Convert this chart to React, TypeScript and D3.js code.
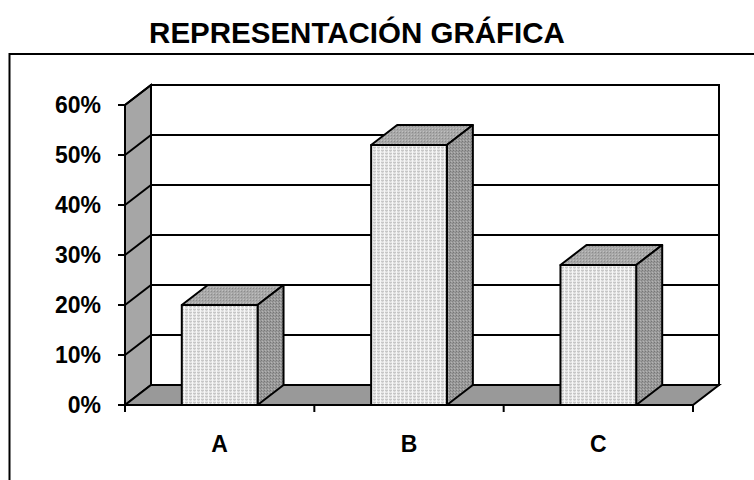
import React from "react";
import * as d3 from "d3";

const categories = ["A", "B", "C"];
const values = [0.2, 0.52, 0.28];
const yTicks = [0, 0.1, 0.2, 0.3, 0.4, 0.5, 0.6];
const title = "REPRESENTACIÓN GRÁFICA";

const WIDTH = 754;
const HEIGHT = 480;
const FONT = "'Liberation Sans', Arial, sans-serif";

const App = () => {
  // front plane of the 3d box
  const left = 125;
  const right = 693;
  const bottom = 405;
  const top = 105;
  const DX = 26;
  const DY = -20;

  const x = d3.scaleBand().domain(categories).range([left, right]);
  const y = d3.scaleLinear().domain([0, 0.6]).range([bottom, top]);
  const bw = x.bandwidth() * 0.4;

  const pts = (arr) => arr.map((p) => p.join(",")).join(" ");

  return (
    <svg
      width={WIDTH}
      height={HEIGHT}
      style={{ position: "absolute", left: 0, top: 0, background: "#fff" }}
    >
      <defs>
        <pattern id="front" width="4" height="3" patternUnits="userSpaceOnUse">
          <rect width="4" height="3" fill="#e6e6e6" />
          <rect y="0" width="4" height="1" fill="#c6c6c6" />
          <rect x="0" width="1" height="3" fill="#f6f6f6" />
          <rect x="2" y="1" width="1" height="1" fill="#d2d2d2" />
        </pattern>
        <pattern id="side" width="3" height="3" patternUnits="userSpaceOnUse">
          <rect width="3" height="3" fill="#9a9a9a" />
          <rect x="0" y="0" width="1" height="1" fill="#767676" />
          <rect x="2" y="1" width="1" height="1" fill="#848484" />
          <rect x="1" y="2" width="1" height="1" fill="#b4b4b4" />
        </pattern>
        <pattern id="topface" width="3" height="3" patternUnits="userSpaceOnUse">
          <rect width="3" height="3" fill="#a8a8a8" />
          <rect x="1" y="0" width="1" height="1" fill="#8c8c8c" />
          <rect x="0" y="2" width="1" height="1" fill="#c0c0c0" />
        </pattern>
      </defs>

      {/* outer frame */}
      <rect x={9.5} y={54} width={800} height={500} fill="none" stroke="#000" strokeWidth={2} />

      <text
        x={357}
        y={43}
        textAnchor="middle"
        fontFamily={FONT}
        fontWeight="bold"
        fontSize={29.5}
      >
        {title}
      </text>

      {/* side wall */}
      <polygon
        points={pts([
          [left, y(0.6)],
          [left + DX, y(0.6) + DY],
          [left + DX, y(0) + DY],
          [left, y(0)],
        ])}
        fill="#a6a6a6"
        stroke="#000"
        strokeWidth={2}
      />
      {/* floor */}
      <polygon
        points={pts([
          [left, y(0)],
          [left + DX, y(0) + DY],
          [right + DX, y(0) + DY],
          [right, y(0)],
        ])}
        fill="#999999"
        stroke="#000"
        strokeWidth={2}
      />
      {/* back wall */}
      <rect
        x={left + DX}
        y={y(0.6) + DY}
        width={right - left}
        height={y(0) - y(0.6)}
        fill="#fff"
        stroke="#000"
        strokeWidth={2}
      />
      {/* gridlines */}
      {yTicks.slice(1).map((t) => (
        <g key={t}>
          <line x1={left + DX} x2={right + DX} y1={y(t) + DY} y2={y(t) + DY} stroke="#000" strokeWidth={2} />
          <line x1={left} x2={left + DX} y1={y(t)} y2={y(t) + DY} stroke="#000" strokeWidth={2} />
        </g>
      ))}

      {/* bars */}
      {categories.map((c, i) => {
        const x0 = x(c) + (x.bandwidth() - bw) / 2;
        const x1 = x0 + bw;
        const yt = y(values[i]);
        const y0 = y(0);
        return (
          <g key={c} stroke="#000" strokeWidth={2} strokeLinejoin="round">
            <polygon
              points={pts([
                [x0, yt],
                [x0 + DX, yt + DY],
                [x1 + DX, yt + DY],
                [x1, yt],
              ])}
              fill="url(#topface)"
            />
            <polygon
              points={pts([
                [x1, yt],
                [x1 + DX, yt + DY],
                [x1 + DX, y0 + DY],
                [x1, y0],
              ])}
              fill="url(#side)"
            />
            <rect x={x0} y={yt} width={bw} height={y0 - yt} fill="url(#front)" />
          </g>
        );
      })}

      {/* axes */}
      <line x1={left} x2={left} y1={top} y2={bottom + 7} stroke="#000" strokeWidth={2} />
      <line x1={left} x2={right} y1={bottom} y2={bottom} stroke="#000" strokeWidth={2} />
      {yTicks.map((t) => (
        <g key={t}>
          <line x1={left - 7} x2={left} y1={y(t)} y2={y(t)} stroke="#000" strokeWidth={2} />
          <text
            x={101}
            y={y(t)}
            dy="0.36em"
            textAnchor="end"
            fontFamily={FONT}
            fontWeight="bold"
            fontSize={23}
          >
            {d3.format(".0%")(t)}
          </text>
        </g>
      ))}
      {categories.map((c) => (
        <g key={c}>
          <line x1={x(c) + x.bandwidth()} x2={x(c) + x.bandwidth()} y1={bottom} y2={bottom + 7} stroke="#000" strokeWidth={2} />
          <text
            x={x(c) + x.bandwidth() / 2}
            y={452}
            textAnchor="middle"
            fontFamily={FONT}
            fontWeight="bold"
            fontSize={23}
          >
            {c}
          </text>
        </g>
      ))}
    </svg>
  );
};

export default App;
